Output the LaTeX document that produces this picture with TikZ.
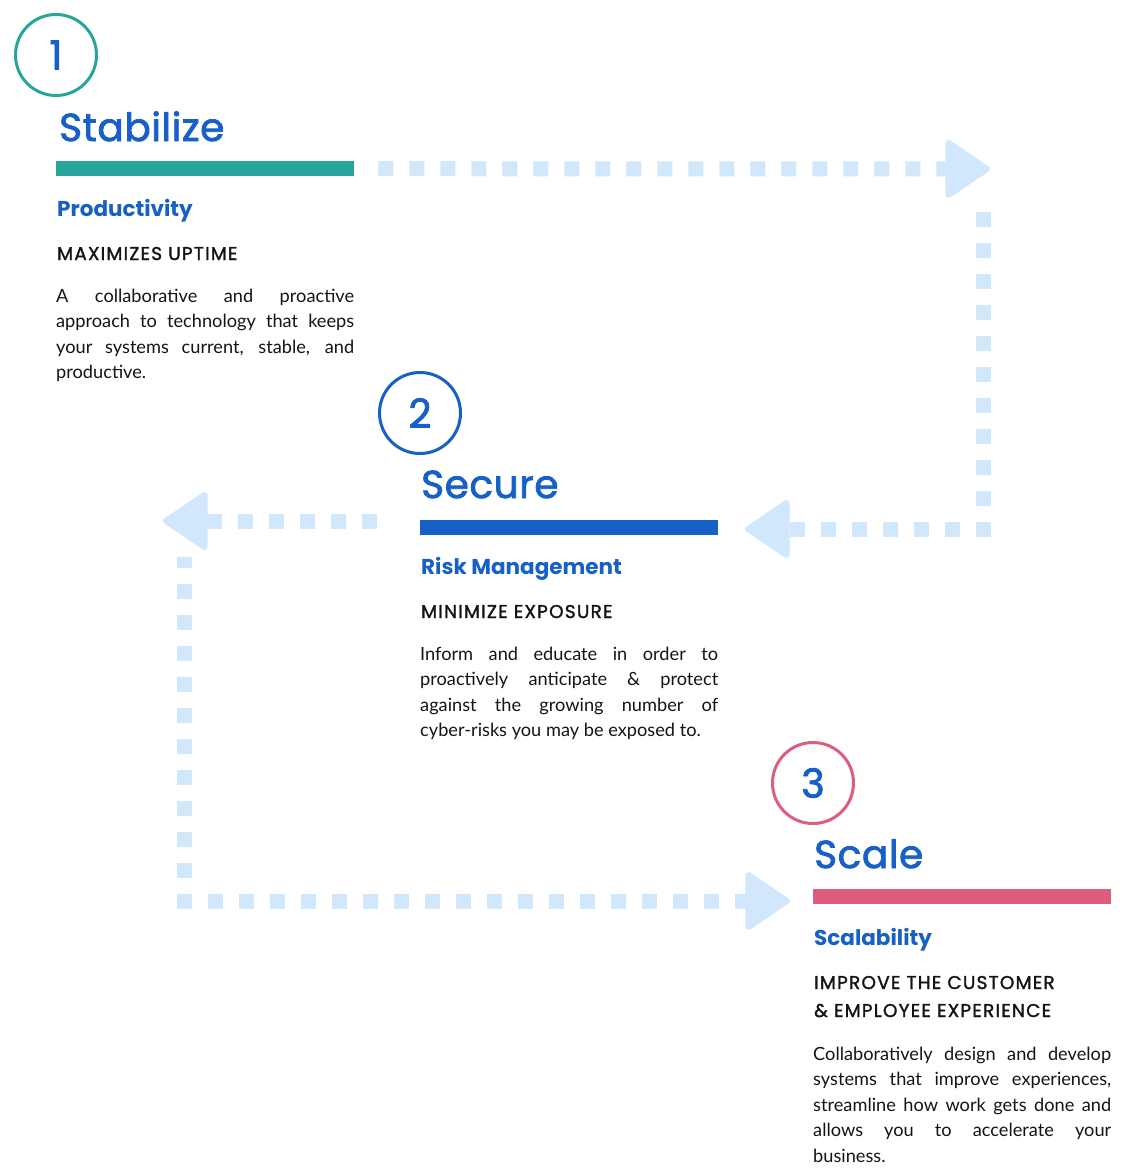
\documentclass[tikz,border=0pt]{standalone}
\usepackage{fontspec}
\setmainfont{Lato}
\newfontfamily\headfont{Poppins}
\newfontfamily\titlefont{Poppins}[FakeBold=2,LetterSpace=1.5]
\newfontfamily\capsfont{Poppins}[FakeBold=1.6,LetterSpace=6.5]
\usepackage{tikz}
\usetikzlibrary{arrows.meta,positioning,calc}
\definecolor{StepTeal}{RGB}{38,166,154}
\definecolor{StepBlue}{RGB}{22,96,200}
\definecolor{StepPink}{RGB}{221,94,124}
\definecolor{FlowBlue}{RGB}{209,231,252}
\definecolor{BodyInk}{RGB}{20,20,20}

\begin{document}
\begin{tikzpicture}[
  x=1pt,y=-1pt,
  num/.style={
    circle,
    draw=#1,
    line width=3pt,
    minimum size=81pt,
    inner sep=0pt,
    text=StepBlue,
    font=\titlefont\fontsize{40}{40}\selectfont
  },
  title/.style={anchor=base west,inner sep=0pt,text=StepBlue,font=\titlefont\fontsize{39}{39}\selectfont},
  bar/.style={fill=#1,anchor=north west,minimum width=298pt,minimum height=15pt,inner sep=0pt},
  subhead/.style={anchor=base west,inner sep=0pt,text=StepBlue,font=\headfont\bfseries\fontsize{21.5}{21.5}\selectfont},
  caps/.style={anchor=base west,inner sep=0pt,text=BodyInk,text width=298pt,align=left,font=\capsfont\fontsize{18.5}{28}\selectfont},
  body/.style={anchor=base west,inner sep=0pt,text=BodyInk,text width=298pt,align=justify,font=\fontsize{18.2}{25.5}\selectfont},
  flow/.style={draw=FlowBlue,line width=15pt,dash pattern=on 15pt off 16pt,-{Triangle[length=47pt,width=62pt,round,line width=6pt]}}
]
\useasboundingbox (0,0) rectangle (1125,1175);

\node[num=StepTeal] (numA) at (56,55) {1};
\node[title] (titleA) at (59,141) {Stabilize};
\node[bar=StepTeal] (barA) at (56,161) {};
\node[subhead] (subA) at (57,216) {Productivity};
\node[caps] (capsA) at (57,260) {MAXIMIZES UPTIME};
\node[body] (bodyA) at (56,302) {A collaborative and proactive\linebreak approach to technology that keeps\linebreak your systems current, stable, and\linebreak productive.};

\node[num=StepBlue] (numB) at (420,413) {2};
\node[title] (titleB) at (421,498) {Secure};
\node[bar=StepBlue] (barB) at (420,520) {};
\node[subhead] (subB) at (421,574) {Risk Management};
\node[caps] (capsB) at (421,618) {MINIMIZE EXPOSURE};
\node[body] (bodyB) at (420,660) {Inform and educate in order to\linebreak proactively anticipate \& protect\linebreak against the growing number of\linebreak cyber-risks you may be exposed to.};

\node[num=StepPink] (numC) at (813,783) {3};
\node[title] (titleC) at (814,868) {Scale};
\node[bar=StepPink] (barC) at (813,889) {};
\node[subhead] (subC) at (814,945) {Scalability};
\node[caps] (capsC) at (814,989) {IMPROVE THE CUSTOMER\\\& EMPLOYEE EXPERIENCE};
\node[body] (bodyC) at (813,1060) {Collaboratively design and develop\linebreak systems that improve experiences,\linebreak streamline how work gets done and\linebreak allows you to accelerate your\linebreak business.};

\coordinate (outA) at ([xshift=24pt]barA.east);
\coordinate (tipA) at (990,169);
\coordinate (downA) at (983,211.5);
\coordinate (turnA) at (983,529);
\coordinate (tipB) at (745,529);
\coordinate (outB) at (377,521);
\coordinate (tipC) at (163,521);
\coordinate (downC) at (184,557);
\coordinate (turnC) at (184,901);
\coordinate (tipD) at (790,901);

\draw[flow] (outA) -- (tipA);
\draw[flow] (downA) -- (turnA) -- (tipB);
\draw[flow] (outB) -- (tipC);
\draw[flow,dash phase=4.5pt] (downC) -- (turnC) -- (tipD);
\end{tikzpicture}
\end{document}
